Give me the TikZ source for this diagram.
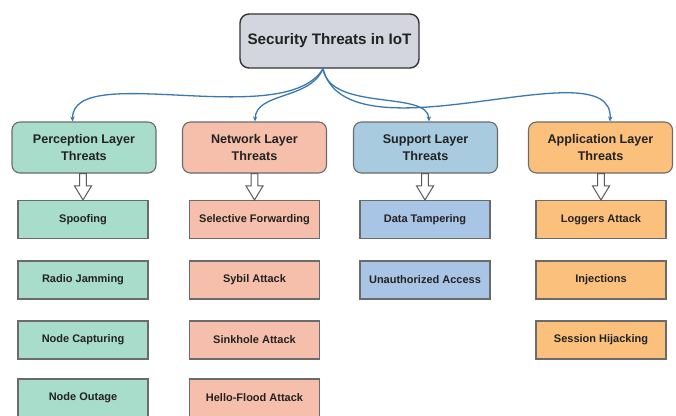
\documentclass[tikz,border=0pt]{standalone}
\usepackage{fontspec}
\setmainfont{Liberation Sans}
\usetikzlibrary{arrows.meta,calc}

\definecolor{topfill}{HTML}{D3D6DE}
\definecolor{percfill}{HTML}{A8DCCB}
\definecolor{netfill}{HTML}{F6BFAB}
\definecolor{supfill}{HTML}{A8CBE0}
\definecolor{supchild}{HTML}{A9C5E6}
\definecolor{appfill}{HTML}{FBC17C}
\definecolor{edge}{HTML}{6B6B6B}
\definecolor{linkblue}{HTML}{3A78B0}
\definecolor{txt}{HTML}{222222}

\tikzset{
  rootbox/.style={draw=black!80, line width=1.4pt, fill=topfill, rounded corners=9pt,
    minimum width=179pt, minimum height=54pt, inner sep=0pt, text=txt,
    font=\bfseries\fontsize{15.2}{18}\selectfont},
  layerbox/.style={draw=edge, line width=1.1pt, rounded corners=8pt,
    minimum width=144pt, minimum height=51pt, inner sep=0pt, align=center, text=txt,
    font=\bfseries\fontsize{12.6}{17}\selectfont},
  itembox/.style={draw=edge, line width=1.1pt,
    minimum width=130pt, minimum height=38pt, inner sep=0pt, text=txt,
    font=\bfseries\fontsize{11}{13}\selectfont},
  link/.style={draw=linkblue, line width=1.3pt, -{Stealth[length=5pt,width=4.5pt]}},
  hollow/.style={draw=black!65, line width=1pt, fill=white, line join=miter},
}

% block arrow from a layer box down to its first threat
\newcommand\blockdown[2]{%
  \path let \p1=(#1.south), \p2=(#2.north) in
    [hollow] (\x2-3.3pt,\y1) -- (\x2-3.3pt,\y2+14pt) -- (\x2-8.5pt,\y2+14pt)
      -- (\x2,\y2) -- (\x2+8.5pt,\y2+14pt) -- (\x2+3.3pt,\y2+14pt)
      -- (\x2+3.3pt,\y1) -- cycle;}

\begin{document}
\begin{tikzpicture}[x=1pt,y=-1pt]
\useasboundingbox (0,0) rectangle (676,415);

% root
\node[rootbox] (root) at (329.5,41) {Security Threats in IoT};

% layers
\node[layerbox, fill=percfill] (perc) at (84,147.5)    {Perception Layer\\Threats};
\node[layerbox, fill=netfill]  (net)  at (254.5,147.5) {Network Layer\\Threats};
\node[layerbox, fill=supfill]  (sup)  at (425.5,147.5) {Support Layer\\Threats};
\node[layerbox, fill=appfill]  (app)  at (600.5,147.5) {Application Layer\\Threats};

% perception layer threats
\node[itembox, fill=percfill] (p1) at (83,219.5) {Spoofing};
\node[itembox, fill=percfill] (p2) at (83,280)   {Radio Jamming};
\node[itembox, fill=percfill] (p3) at (83,340)   {Node Capturing};
\node[itembox, fill=percfill] (p4) at (83,398)   {Node Outage};

% network layer threats
\node[itembox, fill=netfill] (n1) at (254.5,219.5) {Selective Forwarding};
\node[itembox, fill=netfill] (n2) at (254.5,280)   {Sybil Attack};
\node[itembox, fill=netfill] (n3) at (254.5,340)   {Sinkhole Attack};
\node[itembox, fill=netfill] (n4) at (254.5,398)   {Hello-Flood Attack};

% support layer threats
\node[itembox, fill=supchild] (s1) at (425,219.5) {Data Tampering};
\node[itembox, fill=supchild] (s2) at (425,280)   {Unauthorized Access};

% application layer threats
\node[itembox, fill=appfill] (a1) at (601,219.5) {Loggers Attack};
\node[itembox, fill=appfill] (a2) at (601,280)   {Injections};
\node[itembox, fill=appfill] (a3) at (601,340)   {Session Hijacking};

% curved links from the root
\coordinate (hub) at ([xshift=-6.5pt]root.south);
\draw[link] (hub) .. controls (285,132) and (72,60) .. ([xshift=-11.5pt]perc.north);
\draw[link] (hub) .. controls (310,100) and (256,92) .. ([xshift=0.5pt]net.north);
\draw[link] (hub) .. controls (330,112) and (428,90) .. ([xshift=3.5pt]sup.north);
\draw[link] (hub) .. controls (348,165) and (614,44) .. ([xshift=9.5pt]app.north);

% hollow block arrows
\blockdown{perc}{p1}
\blockdown{net}{n1}
\blockdown{sup}{s1}
\blockdown{app}{a1}
\end{tikzpicture}
\end{document}
